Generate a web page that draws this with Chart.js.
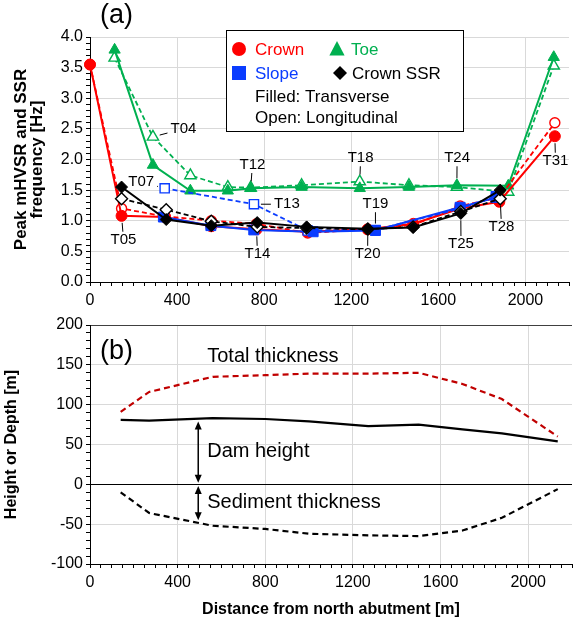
<!DOCTYPE html>
<html>
<head>
<meta charset="utf-8">
<script src="https://cdn.jsdelivr.net/npm/chart.js@4.4.1/dist/chart.umd.min.js"></script>
<style>
  html, body { margin: 0; padding: 0; background: #fff; }
  #wrap { position: relative; width: 577px; height: 628px; overflow: hidden; }
  #top { position: absolute; left: 0; top: 0; }
  #bottom { position: absolute; left: 0; top: 305px; }
</style>
</head>
<body>
<div id="wrap">
  <canvas id="top" width="577" height="315"></canvas>
  <canvas id="bottom" width="577" height="323"></canvas>
</div>
<script>
// (a) peak mHVSR / SSR frequency [Hz]
const crownX = [0, 145, 345, 557, 765, 1000, 1275, 1485, 1700, 1880, 2135];
const crownTrans = [3.55, 1.08, 1.06, 0.91, 0.86, 0.82, 0.86, 0.95, 1.20, 1.31, 2.38];
const crownLong = [3.55, 1.20, 1.07, 1.00, 0.95, 0.80, 0.86, 0.93, 1.24, 1.38, 2.60];

const slopeX = [337, 555, 752, 1025, 1311, 1700, 1865];
const slopeTrans = [1.06, 0.92, 0.85, 0.82, 0.84, 1.22, 1.38];
const slopeLongX = [343, 753, 1000, 1311, 1700, 1865];
const slopeLong = [1.53, 1.27, 0.84, 0.85, 1.20, 1.40];

const toeX = [113, 289, 461, 633, 738, 972, 1239, 1465, 1685, 1921, 2130];
const toeTrans = [3.79, 1.91, 1.49, 1.49, 1.53, 1.55, 1.53, 1.55, 1.58, 1.57, 3.67];
const toeLong = [3.66, 2.37, 1.74, 1.55, 1.54, 1.58, 1.64, 1.58, 1.55, 1.47, 3.53];

const ssrX = [145, 350, 557, 768, 995, 1276, 1484, 1703, 1884];
const ssrTrans = [1.55, 1.02, 0.92, 0.97, 0.90, 0.87, 0.89, 1.12, 1.50];
const ssrLong = [1.36, 1.18, 0.99, 0.90, 0.88, 0.86, 0.90, 1.15, 1.36];

// station labels: name, point they refer to, where the text sits
const stationNames = ["T04", "T05", "T07", "T12", "T13", "T14", "T18", "T19", "T20", "T24", "T25", "T28", "T31"];
const stationAnchors = [[289, 2.37], [145, 1.08], [343, 1.53], [738, 1.53], [753, 1.27], [765, 0.86], [1239, 1.64],
  [1311, 0.84], [1276, 0.865], [1685, 1.58], [1703, 1.12], [1884, 1.36], [2135, 2.38]];
const stationText = [[429, 2.50], [154, 0.69], [235, 1.63], [746, 1.91], [904, 1.27], [769, 0.46], [1243, 2.02],
  [1311, 1.27], [1275, 0.46], [1686, 2.02], [1704, 0.62], [1890, 0.90], [2138, 1.98]];

// (b) section profile [m]
const profileX = [140, 270, 560, 800, 1000, 1270, 1500, 1700, 1880, 2135];
const totalThickness = [91, 116, 135, 137, 139, 139, 140, 126, 107, 60];
const damHeight = [81, 80, 83, 82, 79, 73, 75, 69, 64, 54];
const sedimentThickness = [-10, -36, -52, -56, -62, -64, -65, -58, -42, -6];

const FONT = "'Liberation Sans', Arial, sans-serif";
const RED = "#ff0000";
const GREEN = "#00b050";
const BLUE = "#0a3cff";
const BLACK = "#000000";
const GRID = "#d9d9d9";

Chart.defaults.font.family = FONT;
Chart.defaults.color = "#000";

function isMajor(v, step) {
  return Math.abs(v / step - Math.round(v / step)) < 1e-6;
}

function series(xs, ys, color, style, filled, dashed, radius) {
  return {
    data: xs.map((x, i) => ({ x, y: ys[i] })),
    borderColor: color,
    backgroundColor: filled ? color : "#fff",
    pointStyle: style,
    pointRadius: radius,
    pointBorderColor: color,
    pointBackgroundColor: filled ? color : "#fff",
    pointBorderWidth: filled ? 1 : 1.4,
    borderWidth: dashed ? 1.8 : 2,
    borderDash: dashed ? [5, 3] : [],
    tension: 0,
    fill: false,
    clip: false
  };
}

function marker(ctx, style, x, y, r, color) {
  ctx.save();
  ctx.fillStyle = color;
  ctx.beginPath();
  if (style === "circle") {
    ctx.arc(x, y, r, 0, Math.PI * 2);
  } else if (style === "rect") {
    ctx.rect(x - r, y - r, 2 * r, 2 * r);
  } else if (style === "triangle") {
    ctx.moveTo(x, y - r);
    ctx.lineTo(x + r * 0.95, y + r * 0.8);
    ctx.lineTo(x - r * 0.95, y + r * 0.8);
    ctx.closePath();
  } else {
    ctx.moveTo(x, y - r);
    ctx.lineTo(x + r, y);
    ctx.lineTo(x, y + r);
    ctx.lineTo(x - r, y);
    ctx.closePath();
  }
  ctx.fill();
  ctx.restore();
}

const topDecor = {
  id: "topDecor",
  afterDraw(chart) {
    const { ctx, scales: { x, y } } = chart;
    ctx.save();

    ctx.font = "27px " + FONT;
    ctx.fillStyle = "#000";
    ctx.textAlign = "left";
    ctx.textBaseline = "middle";
    ctx.fillText("(a)", 100, 16);

    // station labels with leader lines
    ctx.font = "15px " + FONT;
    ctx.textAlign = "center";
    ctx.strokeStyle = "#000";
    ctx.lineWidth = 1;
    stationNames.forEach((name, i) => {
      const ax = x.getPixelForValue(stationAnchors[i][0]);
      const ay = y.getPixelForValue(stationAnchors[i][1]);
      const tx = x.getPixelForValue(stationText[i][0]);
      const ty = y.getPixelForValue(stationText[i][1]);
      ctx.fillText(name, tx, ty);
      const hw = ctx.measureText(name).width / 2 + 3;
      const hh = 8;
      const dx = ax - tx, dy = ay - ty;
      const len = Math.hypot(dx, dy);
      const t = Math.min(hw / Math.abs(dx || 1e-6), hh / Math.abs(dy || 1e-6));
      const sx = tx + dx * t, sy = ty + dy * t;
      const ex = ax - dx / len * 7, ey = ay - dy / len * 7;
      ctx.beginPath();
      ctx.moveTo(sx, sy);
      ctx.lineTo(ex, ey);
      ctx.stroke();
    });

    // legend box
    ctx.fillStyle = "#fff";
    ctx.fillRect(226, 30, 237, 101);
    ctx.strokeRect(226.5, 30.5, 237, 101);
    ctx.font = "17px " + FONT;
    ctx.textAlign = "left";
    marker(ctx, "circle", 239, 49, 7, RED);
    ctx.fillStyle = RED; ctx.fillText("Crown", 255, 50);
    marker(ctx, "triangle", 337, 49, 8, GREEN);
    ctx.fillStyle = GREEN; ctx.fillText("Toe", 351, 50);
    marker(ctx, "rect", 239, 73, 7, BLUE);
    ctx.fillStyle = BLUE; ctx.fillText("Slope", 255, 74);
    marker(ctx, "diamond", 340, 73, 7, BLACK);
    ctx.fillStyle = "#000"; ctx.fillText("Crown SSR", 352, 74);
    ctx.fillText("Filled: Transverse", 255, 97);
    ctx.fillText("Open: Longitudinal", 255, 118);
    ctx.restore();
  }
};

const bottomDecor = {
  id: "bottomDecor",
  afterDraw(chart) {
    const { ctx, chartArea, scales: { x, y } } = chart;
    ctx.save();
    ctx.fillStyle = "#000";
    ctx.strokeStyle = "#000";
    ctx.textBaseline = "middle";
    ctx.textAlign = "left";
    ctx.font = "27px " + FONT;
    ctx.fillText("(b)", chartArea.left + 10, chartArea.top + 27);

    ctx.font = "20px " + FONT;
    ctx.fillText("Total thickness", x.getPixelForValue(535), y.getPixelForValue(161));
    ctx.fillText("Dam height", x.getPixelForValue(535), y.getPixelForValue(41));
    ctx.fillText("Sediment thickness", x.getPixelForValue(535), y.getPixelForValue(-23));

    const ax = x.getPixelForValue(494);
    [[2, 79], [-2, -45]].forEach(([v0, v1]) => {
      const p0 = y.getPixelForValue(v0), p1 = y.getPixelForValue(v1);
      const dir = p1 > p0 ? 1 : -1;
      ctx.lineWidth = 1.5;
      ctx.beginPath();
      ctx.moveTo(ax, p0 + dir * 5);
      ctx.lineTo(ax, p1 - dir * 5);
      ctx.stroke();
      [[p0, -dir], [p1, dir]].forEach(([tip, d]) => {
        ctx.beginPath();
        ctx.moveTo(ax, tip);
        ctx.lineTo(ax - 3.5, tip - d * 8);
        ctx.lineTo(ax + 3.5, tip - d * 8);
        ctx.closePath();
        ctx.fill();
      });
    });
    ctx.restore();
  }
};

function xScale(height, withTitle) {
  return {
    type: "linear",
    min: 0,
    max: 2200,
    afterFit: (s) => { s.height = height; },
    ticks: {
      stepSize: 50,
      autoSkip: false,
      maxRotation: 0,
      padding: 5,
      font: { size: 16 },
      callback: (v) => (isMajor(v, 400) ? String(v) : "")
    },
    grid: {
      color: (c) => (c.tick && isMajor(c.tick.value, 400) ? GRID : "transparent"),
      tickColor: "#000",
      tickLength: 4
    },
    border: { color: "#000", width: 1 },
    title: withTitle
      ? { display: true, text: "Distance from north abutment [m]", font: { size: 16, weight: "bold" }, padding: { top: 0, bottom: 0 } }
      : { display: false }
  };
}

new Chart(document.getElementById("top"), {
  type: "line",
  data: {
    datasets: [
      series(ssrX, ssrTrans, BLACK, "rectRot", true, false, 6),
      series(ssrX, ssrLong, BLACK, "rectRot", false, true, 6),
      series(slopeX, slopeTrans, BLUE, "rect", true, false, 7),
      series(slopeLongX, slopeLong, BLUE, "rect", false, true, 6.5),
      series(crownX, crownTrans, RED, "circle", true, false, 5.5),
      series(crownX, crownLong, RED, "circle", false, true, 5),
      series(toeX, toeTrans, GREEN, "triangle", true, false, 6.5),
      series(toeX, toeLong, GREEN, "triangle", false, true, 6.5)
    ]
  },
  options: {
    responsive: false,
    animation: false,
    events: [],
    layout: { padding: { top: 37, right: 2, left: 0, bottom: 0 } },
    plugins: { legend: { display: false }, tooltip: { enabled: false } },
    scales: {
      x: xScale(33, false),
      y: {
        min: 0,
        max: 4,
        afterFit: (s) => { s.width = 90; },
        ticks: {
          stepSize: 0.1,
          autoSkip: false,
          padding: 3,
          font: { size: 16 },
          callback: (v) => (isMajor(v, 0.5) ? v.toFixed(1) : "")
        },
        grid: {
          color: (c) => (c.tick && isMajor(c.tick.value, 0.5) ? GRID : "transparent"),
          tickColor: "#000",
          tickLength: 4
        },
        border: { color: "#000", width: 1 },
        title: {
          display: true,
          text: ["Peak mHVSR and SSR", "frequency [Hz]"],
          font: { size: 17, weight: "bold", lineHeight: 0.95 },
          padding: { top: 13, bottom: 0 }
        }
      }
    }
  },
  plugins: [topDecor]
});

new Chart(document.getElementById("bottom"), {
  type: "line",
  data: {
    datasets: [
      { data: profileX.map((x, i) => ({ x, y: totalThickness[i] })), borderColor: "#c00000", borderWidth: 2.2, borderDash: [6, 4], pointRadius: 0, tension: 0, fill: false },
      { data: profileX.map((x, i) => ({ x, y: damHeight[i] })), borderColor: BLACK, borderWidth: 2.2, pointRadius: 0, tension: 0, fill: false },
      { data: profileX.map((x, i) => ({ x, y: sedimentThickness[i] })), borderColor: BLACK, borderWidth: 2.2, borderDash: [6, 4], pointRadius: 0, tension: 0, fill: false }
    ]
  },
  options: {
    responsive: false,
    animation: false,
    events: [],
    layout: { padding: { top: 20, right: 2, left: 0, bottom: 9 } },
    plugins: { legend: { display: false }, tooltip: { enabled: false } },
    scales: {
      x: xScale(55, true),
      y: {
        min: -100,
        max: 200,
        afterFit: (s) => { s.width = 90; },
        ticks: {
          stepSize: 10,
          autoSkip: false,
          padding: 3,
          font: { size: 16 },
          callback: (v) => (isMajor(v, 50) ? String(v) : "")
        },
        grid: {
          color: (c) => {
            if (!c.tick) return GRID;
            if (c.tick.value === 0) return "#000";
            if (c.tick.value === 200) return "#404040";
            return isMajor(c.tick.value, 50) ? GRID : "transparent";
          },
          tickColor: "#000",
          tickLength: 4
        },
        border: { color: "#000", width: 1 },
        title: {
          display: true,
          text: "Height or Depth [m]",
          font: { size: 16, weight: "bold" },
          padding: { top: 2, bottom: 0 }
        }
      }
    }
  },
  plugins: [bottomDecor]
});
</script>
</body>
</html>
